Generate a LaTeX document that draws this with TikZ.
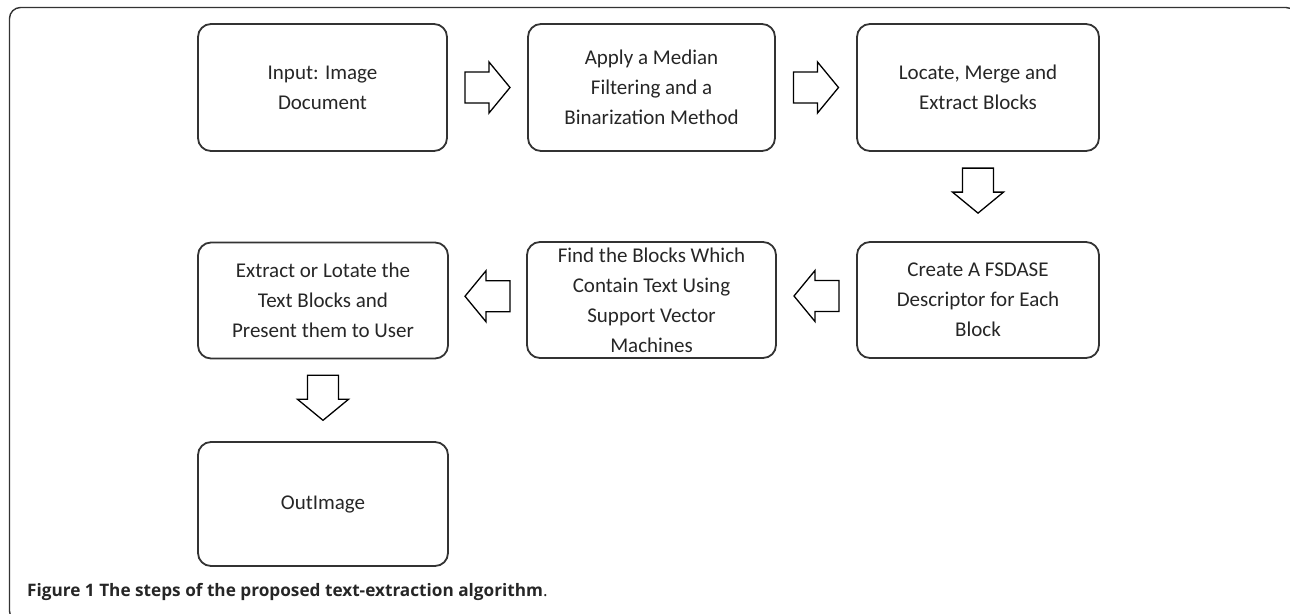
\documentclass[tikz,border=0pt]{standalone}
\usepackage{fontspec}
\setmainfont{Carlito}
\newfontfamily\capfont{Open Sans}
\usetikzlibrary{calc}
\tikzset{
  stepbox/.style={draw=black!80, line width=1.8pt, rounded corners=13pt, align=center,
    font=\fontsize{21}{30}\selectfont, text=black!85, inner sep=4pt},
  blockarrow/.style={draw=black, line width=1.3pt, fill=white, line join=miter},
  frame/.style={draw=black!80, line width=1.4pt, rounded corners=11pt}
}
\newcommand\blockarr[2]{%
  \begin{scope}[shift={(#1)}, rotate=#2]
    \draw[blockarrow] (-22.5,-15.5) -- (1.5,-15.5) -- (1.5,-25.5) -- (22.5,0) -- (1.5,25.5) -- (1.5,15.5) -- (-22.5,15.5) -- cycle;
  \end{scope}}
\begin{document}
\begin{tikzpicture}[x=1pt, y=-1pt]
\useasboundingbox (0,0) rectangle (1290,613);
\begin{scope}
\clip (0,0) rectangle (1290,613);
\draw[frame] (9.5,7.5) rectangle (1297,622);
\end{scope}
\node[stepbox, minimum width=249pt, minimum height=127pt] (b1) at (322.5,87.5) {Input: Image\\Document};
\node[stepbox, minimum width=247pt, minimum height=127pt] (b2) at (651.5,87.5) {Apply a Median\\Filtering and a\\Binarization Method};
\node[stepbox, minimum width=242pt, minimum height=127pt] (b3) at (978,87.5) {Locate, Merge and\\Extract Blocks};
\node[stepbox, minimum width=242pt, minimum height=116pt] (b4) at (978,300) {Create A FSDASE\\Descriptor for Each\\Block};
\node[stepbox, minimum width=249pt, minimum height=116pt] (b5) at (651.5,300) {Find the Blocks Which\\Contain Text Using\\Support Vector\\Machines};
\node[stepbox, minimum width=250pt, minimum height=116pt] (b6) at (323,300.5) {Extract or Lotate the\\Text Blocks and\\Present them to User};
\node[stepbox, minimum width=250pt, minimum height=124pt] (b7) at (323,504) {OutImage};
\coordinate (a1) at ($(b1.east)!0.5!(b2.west)$);
\coordinate (a2) at ($(b2.east)!0.5!(b3.west)$);
\coordinate (a3) at ($(b3.south)!0.434!(b4.north)$);
\coordinate (a4) at ($(b4.west)!0.5!(b5.east)+(0,-4)$);
\coordinate (a5) at ($(b5.west)!0.5!(b6.east)+(0,-4)$);
\coordinate (a6) at ($(b6.south)!0.47!(b7.north)$);
\blockarr{a1}{0}
\blockarr{a2}{0}
\blockarr{a3}{-90}
\blockarr{a4}{180}
\blockarr{a5}{180}
\blockarr{a6}{-90}
\node[anchor=base west, inner sep=0pt, font=\capfont\fontsize{17.2}{20}\selectfont, text=black!85] (cap) at (27,596) {\textbf{Figure 1 The steps of the proposed text-extraction algorithm}.};
\end{tikzpicture}
\end{document}
